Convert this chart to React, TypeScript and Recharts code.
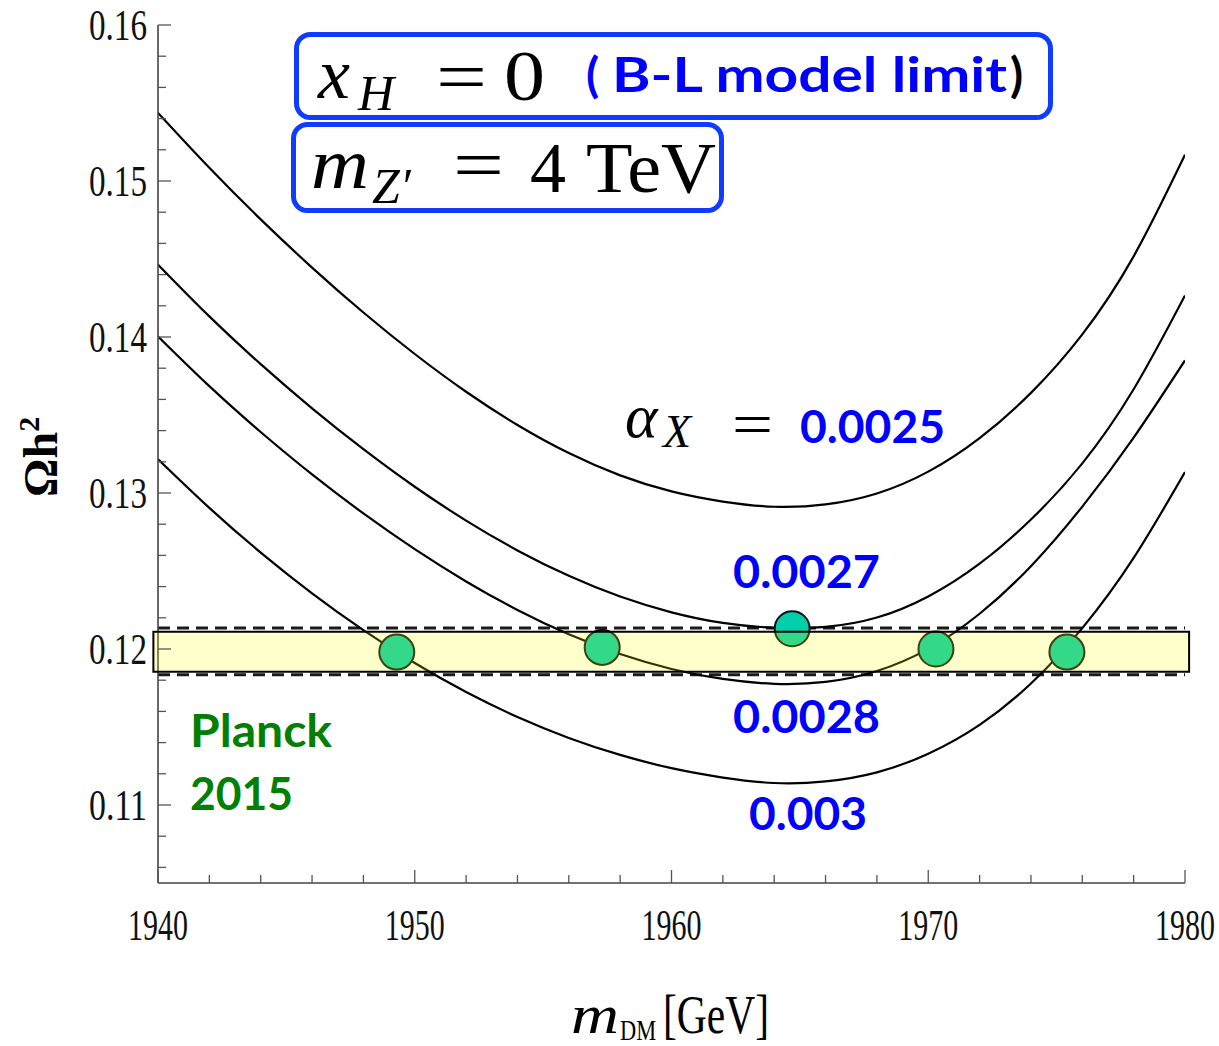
import React from "react";
import {
  ComposedChart,
  Line,
  Scatter,
  XAxis,
  YAxis,
  ReferenceArea,
  ReferenceLine,
} from "recharts";

// relic density vs DM mass (x_H = 0, m_Z' = 4 TeV)
const massGrid = [
  1940, 1942, 1944, 1946, 1948, 1950, 1952, 1954, 1956, 1958, 1960, 1962, 1964,
  1966, 1968, 1970, 1972, 1974, 1976, 1978, 1980,
];
const omegaA0025 = [
  0.15437, 0.15085, 0.14754, 0.14445, 0.14157, 0.13891, 0.13649, 0.13436,
  0.13256, 0.13113, 0.1301, 0.12945, 0.12912, 0.12927, 0.12997, 0.13137,
  0.13352, 0.13642, 0.14017, 0.14517, 0.15168,
];
const omegaA0027 = [
  0.14464, 0.14132, 0.13826, 0.13543, 0.13281, 0.1304, 0.12823, 0.12632,
  0.12469, 0.12336, 0.12235, 0.12167, 0.12136, 0.12142, 0.12202, 0.12337,
  0.12547, 0.1283, 0.1319, 0.13665, 0.14266,
];
const omegaA0028 = [
  0.14004, 0.13685, 0.13391, 0.13119, 0.12869, 0.1264, 0.12433, 0.1225,
  0.12094, 0.11968, 0.11872, 0.11808, 0.11777, 0.11789, 0.11859, 0.12001,
  0.12226, 0.12531, 0.12913, 0.13355, 0.1385,
];
const omegaA003 = [
  0.13217, 0.12905, 0.12618, 0.12357, 0.12121, 0.1191, 0.11724, 0.11564,
  0.1143, 0.11321, 0.11236, 0.11176, 0.11141, 0.11151, 0.11209, 0.11329,
  0.11514, 0.11779, 0.12134, 0.12584, 0.13134,
];

// crossings with the Planck value
const dotMass = [1949.3, 1957.3, 1964.7, 1970.3, 1975.4];
const dotOmega = [0.1198, 0.1201, 0.1213, 0.12, 0.1198];

// Planck 2015 band and its dashed limits
const planckBand = [0.11854, 0.1211];
const planckDashed = [0.11835, 0.12134];

const xTicks = [
  1940, 1942, 1944, 1946, 1948, 1950, 1952, 1954, 1956, 1958, 1960, 1962, 1964,
  1966, 1968, 1970, 1972, 1974, 1976, 1978, 1980,
];
const yTicks = [
  0.106, 0.108, 0.11, 0.112, 0.114, 0.116, 0.118, 0.12, 0.122, 0.124, 0.126,
  0.128, 0.13, 0.132, 0.134, 0.136, 0.138, 0.14, 0.142, 0.144, 0.146, 0.148,
  0.15, 0.152, 0.154, 0.156, 0.158, 0.16,
];

const rows = massGrid.map((m, i) => ({
  m,
  a25: omegaA0025[i],
  a27: omegaA0027[i],
  a28: omegaA0028[i],
  a30: omegaA003[i],
}));
const dots = dotMass.map((m, i) => ({ m, omega: dotOmega[i] }));

const serif = "'Liberation Serif', 'Times New Roman', serif";
const sans = "Lato, 'Open Sans', sans-serif";
const frame = "#444";
const tickGray = "#555";
const blue = "#0000FF";
const boxBlue = "#0F3CFF";

const isMajorY = (v: number) => Math.abs(v * 100 - Math.round(v * 100)) < 1e-6;
const isMajorX = (v: number) => Math.round(v) % 10 === 0;

const LeftTick = ({ x, y, payload }: any) => {
  const major = isMajorY(payload.value);
  return (
    <g>
      <line x1={x} x2={x + (major ? 13 : 8)} y1={y} y2={y} stroke={tickGray} strokeWidth={1.3} />
      {major && (
        <text
          x={x - 11}
          y={y + 15}
          textAnchor="end"
          fontFamily={serif}
          fontSize={44}
          textLength={58}
          lengthAdjust="spacingAndGlyphs"
          fill="#111"
        >
          {payload.value.toFixed(2)}
        </text>
      )}
    </g>
  );
};

const RightTick = ({ x, y, payload }: any) => {
  const major = isMajorY(payload.value);
  return <line x1={x} x2={x - (major ? 13 : 8)} y1={y} y2={y} stroke={tickGray} strokeWidth={1.3} />;
};

const TopTick = ({ x, y, payload }: any) => {
  const major = isMajorX(payload.value);
  return <line x1={x} x2={x} y1={y} y2={y + (major ? 13 : 8)} stroke={tickGray} strokeWidth={1.3} />;
};

const BottomTick = ({ x, y, payload }: any) => {
  const major = isMajorX(payload.value);
  return (
    <g>
      <line x1={x} x2={x} y1={y} y2={y - (major ? 13 : 8)} stroke={tickGray} strokeWidth={1.3} />
      {major && (
        <text
          x={x}
          y={y + 57}
          textAnchor="middle"
          fontFamily={serif}
          fontSize={44}
          textLength={60}
          lengthAdjust="spacingAndGlyphs"
          fill="#111"
        >
          {payload.value}
        </text>
      )}
    </g>
  );
};

const CrossDot = ({ cx, cy }: any) => (
  <circle cx={cx} cy={cy} r={17.5} fill="#00CFAA" stroke="#111" strokeWidth={2} />
);

const Annotations = () => (
  <svg
    width={1219}
    height={1046}
    style={{ position: "absolute", left: 0, top: 0, pointerEvents: "none" }}
  >
    <rect x={296.5} y={34.5} width={754} height={83} rx={14} fill="none" stroke={boxBlue} strokeWidth={5} />
    <text x={318} y={98} fontFamily={serif} fontStyle="italic" fontSize={72}>x</text>
    <text x={358} y={110} fontFamily={serif} fontStyle="italic" fontSize={50}>H</text>
    <text x={436} y={101} fontFamily={serif} fontSize={72} textLength={51} lengthAdjust="spacingAndGlyphs">=</text>
    <text x={504} y={100} fontFamily={serif} fontSize={72} textLength={41} lengthAdjust="spacingAndGlyphs">0</text>
    <text x={586} y={92} fontFamily={sans} fontWeight="bold" fontSize={48} fill={blue}>(</text>
    <text x={612} y={92} fontFamily={sans} fontWeight="bold" fontSize={48} fill={blue} textLength={395} lengthAdjust="spacingAndGlyphs">
      B-L model limit
    </text>
    <text x={1010} y={92} fontFamily={sans} fontWeight="bold" fontSize={48} fill="#000">)</text>

    <rect x={293.5} y={124.5} width={428} height={86} rx={14} fill="none" stroke={boxBlue} strokeWidth={5} />
    <text x={311} y={188} fontFamily={serif} fontStyle="italic" fontSize={72} textLength={58} lengthAdjust="spacingAndGlyphs">m</text>
    <text x={372} y={203} fontFamily={serif} fontStyle="italic" fontSize={50}>Z′</text>
    <text x={453} y={189} fontFamily={serif} fontSize={72} textLength={51} lengthAdjust="spacingAndGlyphs">=</text>
    <text x={530} y={192} fontFamily={serif} fontSize={72}>4</text>
    <text x={586} y={192} fontFamily={serif} fontSize={72} textLength={130} lengthAdjust="spacingAndGlyphs">TeV</text>

    <text x={625} y={437} fontFamily={serif} fontStyle="italic" fontSize={62}>α</text>
    <text x={663} y={447} fontFamily={serif} fontStyle="italic" fontSize={46}>X</text>
    <text x={732} y={444} fontFamily={serif} fontSize={60} textLength={41} lengthAdjust="spacingAndGlyphs">=</text>
    <text x={800} y={443} fontFamily={sans} fontWeight="bold" fontSize={46} fill={blue} textLength={145} lengthAdjust="spacingAndGlyphs">0.0025</text>
    <text x={733} y={588} fontFamily={sans} fontWeight="bold" fontSize={46} fill={blue} textLength={147} lengthAdjust="spacingAndGlyphs">0.0027</text>
    <text x={733} y={733} fontFamily={sans} fontWeight="bold" fontSize={46} fill={blue} textLength={147} lengthAdjust="spacingAndGlyphs">0.0028</text>
    <text x={749} y={830} fontFamily={sans} fontWeight="bold" fontSize={46} fill={blue} textLength={118} lengthAdjust="spacingAndGlyphs">0.003</text>

    <text x={190} y={747} fontFamily={sans} fontWeight="bold" fontSize={46} fill="#008000" textLength={142} lengthAdjust="spacingAndGlyphs">Planck</text>
    <text x={190} y={810} fontFamily={sans} fontWeight="bold" fontSize={46} fill="#008000" textLength={103} lengthAdjust="spacingAndGlyphs">2015</text>

    <text transform="translate(57,497) rotate(-90)" fontFamily={serif} fontWeight="bold" fontSize={48}>
      Ωh<tspan dy={-18} fontSize={30}>2</tspan>
    </text>

    <text x={571} y={1033} fontFamily={serif} fontStyle="italic" fontSize={54} textLength={48} lengthAdjust="spacingAndGlyphs">m</text>
    <text x={620} y={1040} fontFamily={serif} fontSize={30} textLength={36} lengthAdjust="spacingAndGlyphs">DM</text>
    <text x={663} y={1033} fontFamily={serif} fontSize={54} textLength={106} lengthAdjust="spacingAndGlyphs">[GeV]</text>
  </svg>
);

export default function App() {
  return (
    <div style={{ position: "absolute", left: 0, top: 0, width: 1219, height: 1046, background: "#fff" }}>
      <ComposedChart
        width={1219}
        height={1046}
        data={rows}
        margin={{ top: 25, right: 34, bottom: 83, left: 58 }}
      >
        <XAxis
          dataKey="m"
          type="number"
          domain={[1940, 1980]}
          allowDataOverflow
          ticks={xTicks}
          interval={0}
          height={80}
          tickSize={0}
          tickMargin={0}
          tickLine={false}
          axisLine={{ stroke: frame, strokeWidth: 1.6 }}
          tick={<BottomTick />}
        />
        <XAxis
          xAxisId="top"
          orientation="top"
          type="number"
          domain={[1940, 1980]}
          allowDataOverflow
          ticks={xTicks}
          interval={0}
          height={0}
          tickSize={0}
          tickMargin={0}
          tickLine={false}
          axisLine={{ stroke: frame, strokeWidth: 1.6 }}
          tick={<TopTick />}
        />
        <YAxis
          type="number"
          domain={[0.105, 0.16]}
          allowDataOverflow
          ticks={yTicks}
          interval={0}
          width={100}
          tickSize={0}
          tickMargin={0}
          tickLine={false}
          axisLine={{ stroke: frame, strokeWidth: 1.6 }}
          tick={<LeftTick />}
        />
        <YAxis
          yAxisId="right"
          orientation="right"
          type="number"
          domain={[0.105, 0.16]}
          allowDataOverflow
          ticks={yTicks}
          interval={0}
          width={0}
          tickSize={0}
          tickMargin={0}
          tickLine={false}
          axisLine={{ stroke: frame, strokeWidth: 1.6 }}
          tick={<RightTick />}
        />
        {planckDashed.map((v) => (
          <ReferenceLine
            key={v}
            y={v}
            stroke="#1a1a1a"
            strokeWidth={3}
            strokeDasharray="12 7"
            zIndex={350}
          />
        ))}
        <Line type="natural" dataKey="a25" stroke="#000" strokeWidth={2.2} dot={false} activeDot={false} isAnimationActive={false} />
        <Line type="natural" dataKey="a27" stroke="#000" strokeWidth={2.2} dot={false} activeDot={false} isAnimationActive={false} />
        <Line type="natural" dataKey="a28" stroke="#000" strokeWidth={2.2} dot={false} activeDot={false} isAnimationActive={false} />
        <Line type="natural" dataKey="a30" stroke="#000" strokeWidth={2.2} dot={false} activeDot={false} isAnimationActive={false} />
        <Scatter data={dots} dataKey="omega" shape={<CrossDot />} isAnimationActive={false} />
        <ReferenceArea
          x1={1939.82}
          x2={1980.16}
          y1={planckBand[0]}
          y2={planckBand[1]}
          ifOverflow="visible"
          fill="#FFFF00"
          fillOpacity={0.2}
          stroke="#000"
          strokeWidth={2}
          zIndex={800}
        />
      </ComposedChart>
      <Annotations />
    </div>
  );
}
